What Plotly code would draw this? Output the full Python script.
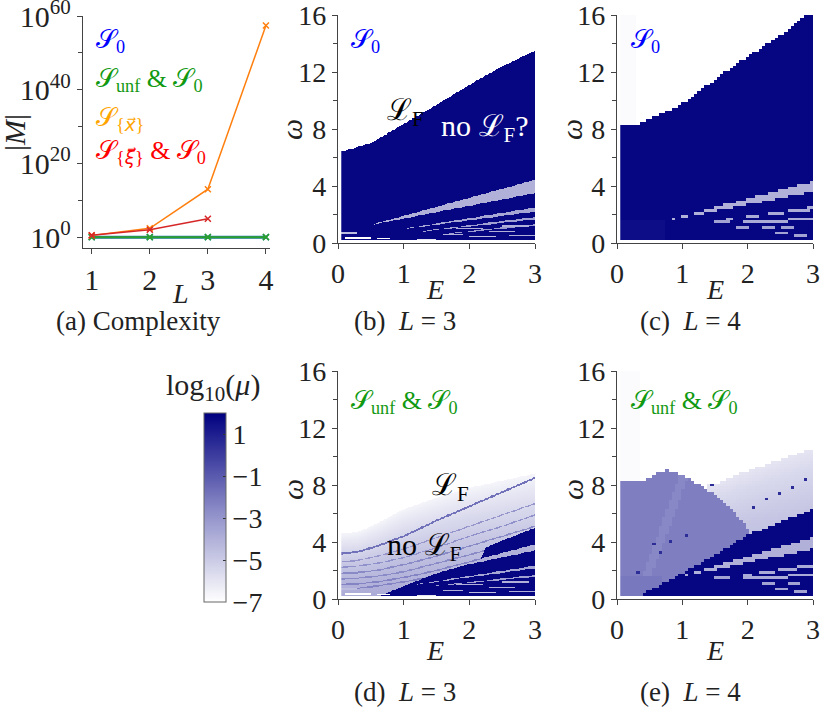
import numpy as np
import plotly.graph_objects as go

# ---------------- (a) complexity |M| vs L ----------------
L_vals = [1, 2, 3, 4]
M_S0 = [1, 1, 1, 1]
M_unf = [1, 1, 1, 1]
M_x = [3, 250, 1e13, 2.5e57]
L_xi = [1, 2, 3]
M_xi = [3, 100, 1e5]

# ---------------- heatmap outlines ----------------
# (b) S0, L=3 : upper edge of the dark region
b_top_E = [0.05, 0.5, 1.0, 1.5, 2.0, 2.5, 3.0]
b_top_w = [6.4, 7.0, 8.35, 9.7, 11.1, 12.4, 13.5]
# light wedges: start E, start w, lower/upper w at E=3, log10(mu)
b_st_E0 = [0.55, 1.05, 1.3, 1.6]
b_st_w0 = [1.3, 1.0, 0.8, 0.6]
b_st_lo = [3.5, 2.2, 1.65, 1.2]
b_st_hi = [4.4, 2.45, 1.8, 1.3]
b_st_val = [-4.0, -3.6, -3.4, -3.2]
# short dashes: E from, E to, w, log10(mu)
b_da_E0 = [0.05, 0.1, 0.6, 1.2, 1.6, 1.8, 2.3, 2.5, 2.6, 2.0]
b_da_E1 = [0.3, 0.5, 0.8, 1.5, 1.9, 2.2, 2.7, 2.9, 3.0, 2.4]
b_da_w = [0.7, 0.35, 0.3, 0.25, 0.6, 1.0, 0.8, 1.2, 0.5, 0.45]
b_da_val = [-4.5, -7.0, -7.0, -6.0, -4.0, -4.0, -4.0, -4.0, -4.0, -4.5]

# (c) S0, L=4
c_top_E = [0.05, 0.3, 0.5, 1.0, 1.5, 2.0, 2.5, 2.9, 3.0]
c_top_w = [8.2, 8.3, 8.7, 9.75, 11.5, 13.1, 14.6, 16.0, 16.0]
c_st_E0 = [0.8, 1.6]
c_st_w0 = [1.6, 1.6]
c_st_lo = [3.6, 2.3]
c_st_hi = [4.3, 2.5]
c_st_val = [-4.0, -3.8]
c_da_E0 = [1.5, 1.9, 2.3, 2.6, 1.8, 2.2, 2.5, 2.4, 2.7]
c_da_E1 = [1.7, 2.3, 2.6, 3.0, 2.0, 2.4, 2.7, 2.6, 2.9]
c_da_w = [1.4, 1.4, 1.45, 1.75, 1.15, 1.1, 1.0, 0.75, 0.55]
c_da_val = [-3.5, -3.8, -3.8, -3.8, -3.5, -3.5, -3.5, -3.5, -3.5]

# (d) S_unf & S0, L=3
d_top_E = [0.05, 0.3, 0.6, 1.0, 1.5, 2.0, 2.5, 3.0]
d_top_w = [4.6, 4.7, 5.3, 6.3, 7.1, 7.8, 8.3, 8.8]
d_cut_E = [0.64, 1.0, 1.5, 2.0, 2.15, 2.25, 2.5, 3.0]
d_cut_w = [0.2, 0.9, 1.8, 2.45, 2.65, 3.6, 4.1, 5.0]
d_st_E0 = [1.3, 1.2, 1.5]
d_st_w0 = [1.75, 1.0, 0.9]
d_st_lo = [3.4, 2.15, 1.55]
d_st_hi = [3.8, 2.3, 1.65]
d_st_val = [-4.0, -3.6, -3.4]
d_line_E = [0.05, 0.3, 0.6, 1.0, 1.5, 2.0, 2.5, 3.0]
d_line_main = [3.2, 3.3, 3.7, 4.4, 5.5, 6.5, 7.5, 8.5]
d_line_2 = [2.6, 2.7, 3.0, 3.5, 4.3, 5.1, 5.9, 6.7]
d_line_3 = [2.2, 2.3, 2.5, 2.9, 3.6, 4.4, 5.1, 5.9]
d_line_4 = [1.8, 1.85, 2.0, 2.4, 3.0, 3.7, 4.4, 5.1]
d_line_5 = [1.4, 1.45, 1.6, 1.9, 2.5, 3.1, 3.7, 4.3]
d_line_6 = [1.0, 1.05, 1.2, 1.5, 2.0, 2.6, 3.2, 3.8]
d_line_7 = [0.7, 0.75, 0.9, 1.2, 1.6, 2.1, 2.6, 3.1]

# (e) S_unf & S0, L=4
e_light_E = [1.4, 1.5, 2.0, 2.5, 3.0]
e_light_w = [8.0, 8.1, 9.0, 9.8, 10.6]
e_dome_E = [0.05, 0.4, 0.6, 0.75, 0.9, 1.1, 1.3, 1.5, 1.7, 1.85, 2.0]
e_dome_w = [8.2, 8.3, 8.8, 9.0, 8.9, 8.5, 7.9, 7.3, 6.5, 5.8, 4.9]
e_cut_E = [0.33, 1.0, 1.5, 2.0, 2.5, 3.0]
e_cut_w = [0.2, 1.8, 3.1, 4.5, 5.4, 6.3]
e_st_E0 = [0.9, 1.45]
e_st_w0 = [1.5, 1.35]
e_st_lo = [3.5, 2.2]
e_st_hi = [4.3, 2.4]
e_st_val = [-4.0, -3.8]
e_da_E0 = [1.5, 1.9, 2.3, 2.6, 2.2, 2.6, 2.4, 2.7]
e_da_E1 = [1.7, 2.3, 2.6, 3.0, 2.4, 2.8, 2.6, 2.9]
e_da_w = [1.4, 1.4, 1.45, 1.75, 1.1, 1.0, 0.75, 0.5]
e_da_val = [-3.5, -3.8, -3.8, -3.8, -3.5, -3.5, -3.5, -3.5]
e_dot_E = [0.82, 0.55, 0.68, 0.3, 1.45, 2.1, 2.3, 2.5, 2.7, 2.9, 1.05]
e_dot_w = [4.0, 3.8, 3.2, 1.8, 8.1, 6.5, 7.0, 7.4, 7.8, 8.3, 4.4]

cb_ticks = [1, -1, -3, -5, -7]
cb_labels = ["1", "−1", "−3", "−5", "−7"]

# ---------------- helpers ----------------
def grid(nx, ny):
    ex = np.linspace(0.05, 3.0, nx + 1)
    wy = np.linspace(0.2, 16.0, ny + 1)
    ec = (ex[:-1] + ex[1:]) / 2
    wc = (wy[:-1] + wy[1:]) / 2
    EE, WW = np.meshgrid(ec, wc)
    return ec, wc, EE, WW


def add_stripes(Z, EE, WW, E0, W0, LO, HI, VAL, mask=None):
    for e0, w0, lo, hi, v in zip(E0, W0, LO, HI, VAL):
        f = np.clip((EE - e0) / (3.0 - e0), 0, None)
        m = (EE >= e0) & (WW >= w0 + (lo - w0) * f) & (WW <= w0 + (hi - w0) * f + 0.03)
        if mask is not None:
            m &= mask
        Z[m] = v


def add_dashes(Z, EE, WW, E0, E1, W, VAL, half=0.08):
    for a, b, w, v in zip(E0, E1, W, VAL):
        Z[(EE >= a) & (EE <= b) & (np.abs(WW - w) <= half)] = v


# (b)
bx, by, EE, WW = grid(300, 320)
top = np.interp(EE, b_top_E, b_top_w)
Zb = np.where(WW <= top, 1.8, np.nan)
add_stripes(Zb, EE, WW, b_st_E0, b_st_w0, b_st_lo, b_st_hi, b_st_val)
add_dashes(Zb, EE, WW, b_da_E0, b_da_E1, b_da_w, b_da_val, 0.06)

# (c)
cx, cy, EE, WW = grid(60, 80)
top = np.interp(EE, c_top_E, c_top_w)
Zc = np.where(WW <= top, 1.8, np.nan)
Zc[(EE < 0.75) & (WW < 1.6)] = 1.55
Zc[(EE < 0.32) & (WW > top)] = -6.85
add_stripes(Zc, EE, WW, c_st_E0, c_st_w0, c_st_lo, c_st_hi, c_st_val)
add_dashes(Zc, EE, WW, c_da_E0, c_da_E1, c_da_w, c_da_val, 0.1)

# (d)
dx, dy, EE, WW = grid(300, 320)
top = np.interp(EE, d_top_E, d_top_w)
Zd = np.where(WW <= top, -3.8 - 2.8 * (WW / top) ** 1.5, np.nan)
for ln, v, hw in [(d_line_main, -1.8, 0.07), (d_line_2, -3.0, 0.04), (d_line_3, -2.8, 0.04),
                  (d_line_4, -2.6, 0.05), (d_line_5, -2.6, 0.05), (d_line_6, -2.4, 0.05),
                  (d_line_7, -2.4, 0.05)]:
    c = np.interp(EE, d_line_E, ln)
    m = (np.abs(WW - c) <= hw) & (WW <= top)
    Zd[m] = v
dark = WW <= np.interp(EE, d_cut_E, d_cut_w)
Zd[dark] = 1.8
add_stripes(Zd, EE, WW, d_st_E0, d_st_w0, d_st_lo, d_st_hi, d_st_val, dark)
add_dashes(Zd, EE, WW, b_da_E0, b_da_E1, b_da_w, b_da_val, 0.06)

# (e)
ex, ey, EE, WW = grid(60, 80)
Ze = np.full(EE.shape, np.nan)
Ze[(EE < 0.35) & (WW > 8.2)] = -6.85
ltop = np.interp(EE, e_light_E, e_light_w)
lm = (EE >= 1.4) & (WW <= ltop)
Ze[lm] = (-4.2 - 1.8 * (WW / ltop) ** 2)[lm]
dome = (EE <= 2.0) & (WW <= np.interp(EE, e_dome_E, e_dome_w))
Ze[dome] = -2.2
streak = dome & (np.abs(EE - (0.45 + (WW - 1.5) * 0.08)) < 0.07)
Ze[streak] = -2.55
Ze[dome & (WW < 1.6) & (EE < 0.7)] = -2.0
dark = WW <= np.interp(EE, e_cut_E, e_cut_w)
Ze[dark] = 1.8
add_stripes(Ze, EE, WW, e_st_E0, e_st_w0, e_st_lo, e_st_hi, e_st_val, dark)
add_dashes(Ze, EE, WW, e_da_E0, e_da_E1, e_da_w, e_da_val, 0.1)
for de, dw in zip(e_dot_E, e_dot_w):
    i = np.argmin(np.abs(ex - de))
    j = np.argmin(np.abs(ey - dw))
    Ze[j, i] = 0.5

# ---------------- figure ----------------
W, H = 822, 710
FONT = "Liberation Serif"
AX = "#444444"
cscale = [[0.0, "#ffffff"], [0.444, "rgb(150,150,205)"], [1.0, "rgb(0,0,128)"]]


def px(x):
    return x / W


def py(y):
    return 1 - y / H


fig = go.Figure()

# panel (a)
fig.add_trace(go.Scatter(x=L_vals, y=M_S0, mode="lines+markers", line=dict(color="#1f77b4", width=3),
                         marker=dict(symbol="x-thin", size=6, line=dict(color="#1f77b4", width=1.5)),
                         xaxis="x", yaxis="y", showlegend=False))
fig.add_trace(go.Scatter(x=L_vals, y=M_unf, mode="lines+markers", line=dict(color="#2ca02c", width=2),
                         marker=dict(symbol="x-thin", size=6, line=dict(color="#2ca02c", width=1.5)),
                         xaxis="x", yaxis="y", showlegend=False))
fig.add_trace(go.Scatter(x=L_vals, y=M_x, mode="lines+markers", line=dict(color="#ff7f0e", width=1.5),
                         marker=dict(symbol="x-thin", size=6, line=dict(color="#ff7f0e", width=1.5)),
                         xaxis="x", yaxis="y", showlegend=False))
fig.add_trace(go.Scatter(x=L_xi, y=M_xi, mode="lines+markers", line=dict(color="#d62728", width=1.5),
                         marker=dict(symbol="x-thin", size=6, line=dict(color="#d62728", width=1.5)),
                         xaxis="x", yaxis="y", showlegend=False))

panels = [("x2", "y2", bx, by, Zb), ("x3", "y3", cx, cy, Zc), ("x4", "y4", dx, dy, Zd), ("x5", "y5", ex, ey, Ze)]
for k, (xa, ya, xs, ys, Z) in enumerate(panels):
    fig.add_trace(go.Heatmap(
        x=xs, y=ys, z=Z, zmin=-7, zmax=2, colorscale=cscale, xaxis=xa, yaxis=ya,
        showscale=(k == 0), hoverongaps=False,
        colorbar=dict(x=px(204), xanchor="left", y=py(602), yanchor="bottom",
                      len=(602 - 413) / H, lenmode="fraction", thickness=22, thicknessmode="pixels",
                      outlinecolor="#666", outlinewidth=1, tickvals=cb_ticks, ticktext=cb_labels,
                      ticks="inside", ticklen=3, tickcolor="#333", xpad=0, ypad=0,
                      tickfont=dict(family=FONT, size=28, color="#222"))))

axis_common = dict(showline=True, linecolor=AX, linewidth=1.3, ticks="outside", ticklen=5,
                   tickcolor=AX, tickwidth=1.2, showgrid=False, zeroline=False, automargin=False,
                   ticklabeloverflow="allow",
                   tickfont=dict(family=FONT, size=28, color="#222"))

layout = dict(width=W, height=H, margin=dict(l=0, r=0, t=0, b=0, autoexpand=False),
              paper_bgcolor="white", plot_bgcolor="white", showlegend=False,
              font=dict(family=FONT, color="#222"))

layout["xaxis"] = dict(axis_common, domain=[px(83), px(270)], range=[0.85, 4.07],
                       tickvals=[1, 2, 3, 4], anchor="y",
                       tickfont=dict(family=FONT, size=30, color="#222"))
layout["yaxis"] = dict(axis_common, domain=[py(248), py(16)], type="log", range=[-2.95, 60],
                       tickvals=[1, 1e20, 1e40, 1e60],
                       ticktext=["10<sup>0</sup>", "10<sup>20</sup>", "10<sup>40</sup>", "10<sup>60</sup>"],
                       minor=dict(tickvals=[1e10, 1e30, 1e50], ticks="outside", ticklen=4, tickcolor=AX),
                       tickfont=dict(family=FONT, size=30, color="#222"), anchor="x")

boxes = {2: (338, 535, 15, 243), 3: (617, 813, 15, 243), 4: (338, 535, 371, 599), 5: (617, 813, 371, 599)}
for n, (x0, x1, y0, y1) in boxes.items():
    layout[f"xaxis{n}"] = dict(axis_common, domain=[px(x0), px(x1)], range=[0, 3],
                               tickvals=[0, 1, 2, 3], anchor=f"y{n}")
    layout[f"yaxis{n}"] = dict(axis_common, domain=[py(y1), py(y0)], range=[0, 16],
                               tickvals=[0, 4, 8, 12, 16],
                               minor=dict(tickvals=[2, 6, 10, 14], ticks="outside", ticklen=4, tickcolor=AX),
                               anchor=f"x{n}")

fig.update_layout(**layout)

# glyphs missing from Liberation Serif are taken from DejaVu Sans
S = '<span style="font-family:DejaVu Sans">𝒮</span>'
VX = '<span style="font-family:DejaVu Sans"><i>x⃗</i></span>'
VXI = '<span style="font-family:DejaVu Sans"><i>ξ⃗</i></span>'
LF = "ℒ<sub>F</sub>"
ann = [
    # legend of (a)
    (94, 40, f"{S}<sub>0</sub>", "#0000ff", 26, "left", 0),
    (94, 80, f"{S}<sub>unf</sub> &amp; {S}<sub>0</sub>", "#119911", 26, "left", 0),
    (94, 118, f"{S}<sub>{{{VX}}}</sub>", "#ffa500", 26, "left", 0),
    (94, 152, f"{S}<sub>{{{VXI}}}</sub> &amp; {S}<sub>0</sub>", "#ff0000", 26, "left", 0),
    # panel texts
    (349, 40, f"{S}<sub>0</sub>", "#0000ff", 26, "left", 0),
    (629, 40, f"{S}<sub>0</sub>", "#0000ff", 26, "left", 0),
    (405, 112, LF, "#000000", 30, "center", 0),
    (485, 128, f"no {LF}?", "#ffffff", 30, "center", 0),
    (349, 401, f"{S}<sub>unf</sub> &amp; {S}<sub>0</sub>", "#119911", 26, "left", 0),
    (629, 401, f"{S}<sub>unf</sub> &amp; {S}<sub>0</sub>", "#119911", 26, "left", 0),
    (450, 487, LF, "#000000", 30, "center", 0),
    (424, 547, f"no {LF}", "#000000", 30, "center", 0),
    # axis titles
    (15, 132, "|<i>M</i>|", "#222", 30, "center", -90),
    (180, 293, "<i>L</i>", "#222", 28, "center", 0),
    (292, 130, "<i>ω</i>", "#222", 30, "center", -90),
    (572, 130, "<i>ω</i>", "#222", 30, "center", -90),
    (292, 490, "<i>ω</i>", "#222", 30, "center", -90),
    (572, 490, "<i>ω</i>", "#222", 30, "center", -90),
    (435, 289, "<i>E</i>", "#222", 28, "center", 0),
    (715, 289, "<i>E</i>", "#222", 28, "center", 0),
    (435, 650, "<i>E</i>", "#222", 28, "center", 0),
    (715, 650, "<i>E</i>", "#222", 28, "center", 0),
    # captions
    (138, 321, "(a) Complexity", "#222", 27, "center", 0),
    (405, 321, "(b)  <i>L</i> = 3", "#222", 27, "center", 0),
    (690, 321, "(c)  <i>L</i> = 4", "#222", 27, "center", 0),
    (405, 692, "(d)  <i>L</i> = 3", "#222", 27, "center", 0),
    (690, 692, "(e)  <i>L</i> = 4", "#222", 27, "center", 0),
    # colorbar title
    (213, 387, "log<sub>10</sub>(<i>μ</i>)", "#222", 30, "center", 0),
]
for x, y, t, col, sz, anc, rot in ann:
    fig.add_annotation(x=px(x), y=py(y), xref="paper", yref="paper", text=t, showarrow=False,
                       xanchor=anc, yanchor="middle", textangle=rot,
                       font=dict(family=FONT, size=sz, color=col))

# drop the page's default body margin so the figure sits at the window corner
fig.write_html("out.html", config={"displayModeBar": False},
               post_script="document.body.style.margin='0';")
